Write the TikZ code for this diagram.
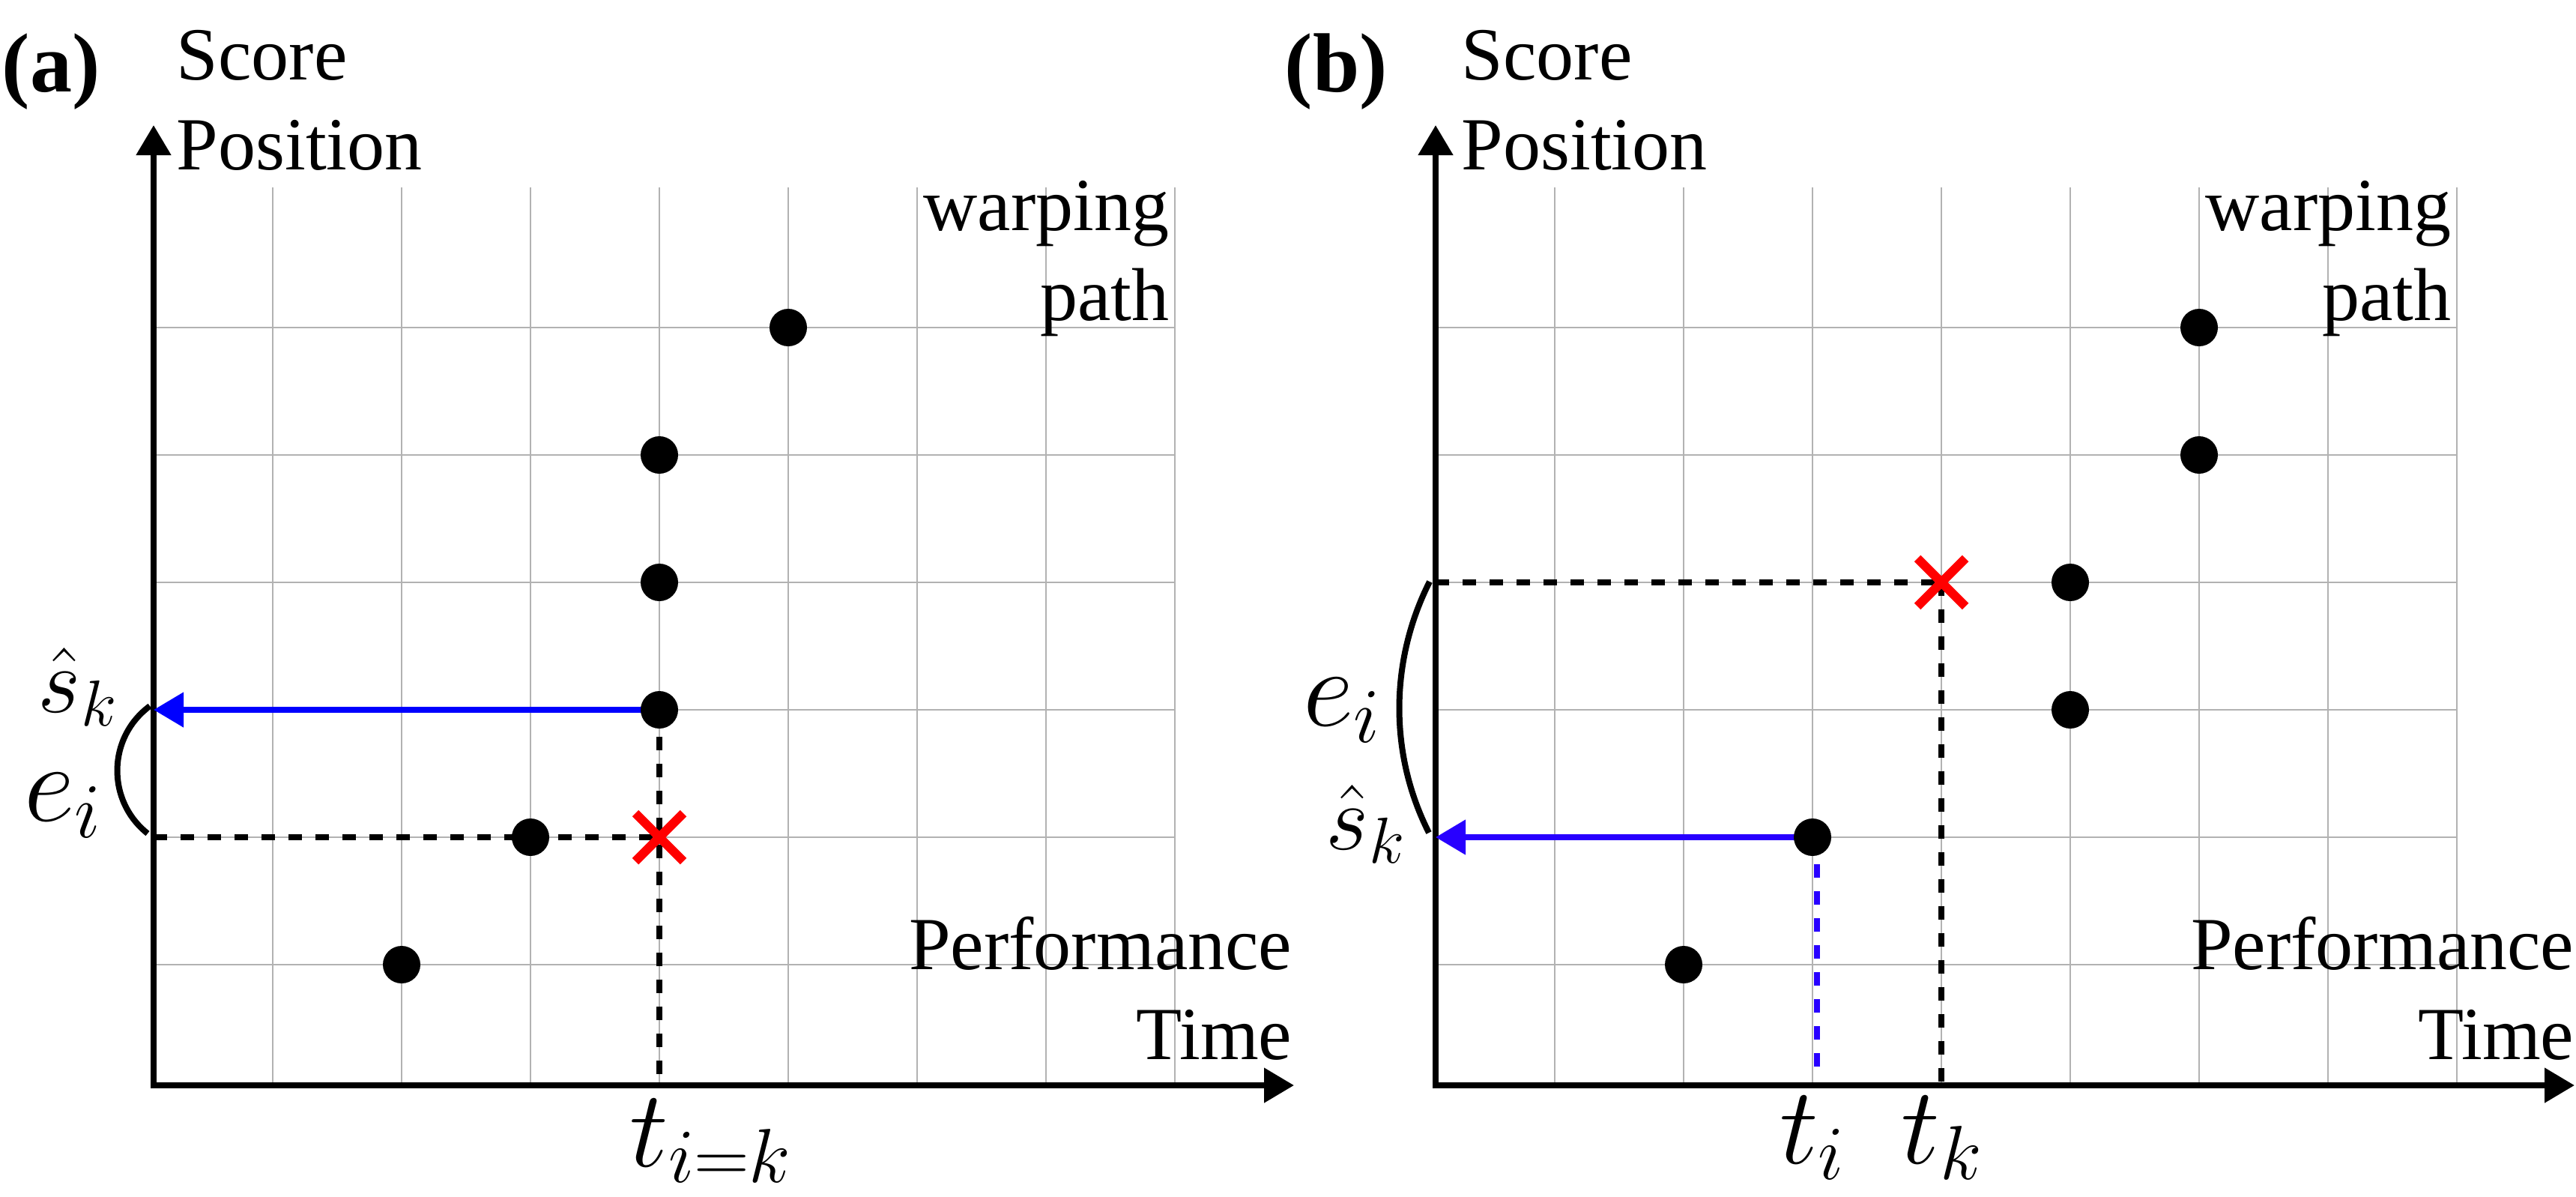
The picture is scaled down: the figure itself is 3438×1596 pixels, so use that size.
\documentclass[tikz,border=0pt]{standalone}
\usepackage{fontspec}
\setmainfont{Liberation Serif}
\DeclareFontShape{OML}{cmm}{m}{it}{<-6>cmmi5<6-7>cmmi6<7-8>cmmi7<8-9>cmmi8<9-10>cmmi9<10-12>cmmi10<12->cmmi12}{}
\DeclareFontShape{OT1}{cmr}{m}{n}{<-6>cmr5<6-7>cmr6<7-8>cmr7<8-9>cmr8<9-10>cmr9<10-12>cmr10<12-17>cmr12<17->cmr17}{}
\DeclareFontShape{OMS}{cmsy}{m}{n}{<-6>cmsy5<6-7>cmsy6<7-8>cmsy7<8-9>cmsy8<9-10>cmsy9<10->cmsy10}{}
\usetikzlibrary{arrows.meta,shapes.misc}
\definecolor{gridgray}{RGB}{178,178,178}
\definecolor{blueA}{RGB}{0,0,255}
\definecolor{blueB}{RGB}{40,0,255}
\definecolor{redX}{RGB}{255,0,0}
\begin{document}
\begin{tikzpicture}[x=0.25pt,y=-0.25pt,
  gridline/.style={draw=gridgray,line width=0.5pt},
  axisline/.style={line width=2pt,-{Triangle[length=10pt,width=11.25pt]}},
  dot/.style={circle,fill=black,inner sep=0pt,minimum size=12.5pt},
  xmark/.style={cross out,draw=redX,line width=3pt,inner sep=0pt,minimum size=13pt},
  guide/.style={line width=1.85pt,dash pattern=on 4.5pt off 4.5pt},
  estarrow/.style={line width=2pt,-{Triangle[length=10pt,width=11.25pt]}},
  bracearc/.style={line width=2pt},
  txt/.style={inner sep=0pt,font=\fontsize{25}{30}\selectfont},
  panellbl/.style={inner sep=0pt,font=\fontsize{28}{30}\selectfont\bfseries},
  mathE/.style={inner sep=0pt,font=\fontsize{37}{40}\selectfont},
  mathS/.style={inner sep=0pt,font=\fontsize{31}{34}\selectfont},
  mathT/.style={inner sep=0pt,font=\fontsize{36.5}{38}\selectfont}]
\useasboundingbox (0,0) rectangle (3438,1596);

% ---------------- panel (a) ----------------
\foreach \i in {0,...,7} \draw[gridline] (364+172*\i,250) -- (364+172*\i,1448);
\foreach \j in {0,...,5} \draw[gridline] (205,437+170*\j) -- (1568,437+170*\j);

\coordinate (oa) at (205,1448);
\coordinate (yta) at (205,167);
\coordinate (xta) at (1727,1448);
\draw[axisline] ([yshift=-1pt]oa) -- (yta);
\draw[axisline] ([xshift=-1pt]oa) -- (xta);

\coordinate (pa1) at (536,1287);
\coordinate (pa2) at (708,1117);
\coordinate (pa3) at (880,947);
\coordinate (pa4) at (880,777);
\coordinate (pa5) at (880,607);
\coordinate (pa6) at (1052,437);
\coordinate (ca) at (880,1117);

\draw[guide] (oa |- ca) -- (ca);
\draw[guide] (pa3) -- (pa3 |- oa);
\draw[estarrow,blueA] (pa3) -- (pa3 -| oa);

\coordinate (ba1) at (200,942);
\coordinate (ba2) at (197,1112);
\draw[bracearc] (ba1) .. controls (143.3,983.8) and (141.8,1068.2) .. (ba2);

\foreach \n in {pa1,pa2,pa3,pa4,pa5,pa6} \node[dot] (d\n) at (\n) {};
\node[xmark] (xa) at (ca) {};

\node[panellbl,anchor=base west] (labA) at (2,122) {(a)};
\node[txt,anchor=base west] (scoreA) at (235,106) {Score};
\node[txt,anchor=base west] (posA) at (235,226) {Position};
\node[txt,anchor=base east] (warpA) at (1561,307) {warping};
\node[txt,anchor=base east] (pathA) at (1561,427) {path};
\node[txt,anchor=base east] (perfA) at (1725,1293) {Performance};
\node[txt,anchor=base east] (timeA) at (1725,1413) {Time};
\node[mathS,anchor=base] (skA) at (104,950) {$\hat{s}_k$};
\node[mathE,anchor=base] (eiA) at (84,1095) {$e_i$};
\node[mathT,anchor=base] (tikA) at (949,1556) {$t_{i=k}$};

% ---------------- panel (b) ----------------
\foreach \i in {0,...,7} \draw[gridline] (2075+172*\i,250) -- (2075+172*\i,1448);
\foreach \j in {0,...,5} \draw[gridline] (1916,437+170*\j) -- (3279,437+170*\j);

\coordinate (ob) at (1916,1448);
\coordinate (ytb) at (1916,167);
\coordinate (xtb) at (3436,1448);
\draw[axisline] ([yshift=-1pt]ob) -- (ytb);
\draw[axisline] ([xshift=-1pt]ob) -- (xtb);

\coordinate (pb1) at (2247,1287);
\coordinate (pb2) at (2419,1117);
\coordinate (pb3) at (2763,947);
\coordinate (pb4) at (2763,777);
\coordinate (pb5) at (2935,607);
\coordinate (pb6) at (2935,437);
\coordinate (cb) at (2591,777);

\draw[guide] (ob |- cb) -- (cb);
\draw[guide] (cb) -- (cb |- ob);
\draw[estarrow,blueB] (pb2) -- (pb2 -| ob);
\draw[guide,blueB,line width=2pt] ([xshift=1.5pt]pb2) -- ([xshift=1.5pt,yshift=4pt]pb2 |- ob);

\coordinate (bb1) at (1908,776);
\coordinate (bb2) at (1907,1111);
\draw[bracearc] (bb1) .. controls (1854.7,881.3) and (1853.7,1005.7) .. (bb2);

\foreach \n in {pb1,pb2,pb3,pb4,pb5,pb6} \node[dot] (d\n) at (\n) {};
\node[xmark] (xb) at (cb) {};

\node[panellbl,anchor=base west] (labB) at (1714,122) {(b)};
\node[txt,anchor=base west] (scoreB) at (1950,106) {Score};
\node[txt,anchor=base west] (posB) at (1950,226) {Position};
\node[txt,anchor=base east] (warpB) at (3272,307) {warping};
\node[txt,anchor=base east] (pathB) at (3272,427) {path};
\node[txt,anchor=base east] (perfB) at (3436,1293) {Performance};
\node[txt,anchor=base east] (timeB) at (3436,1413) {Time};
\node[mathE,anchor=base] (eiB) at (1791,968) {$e_i$};
\node[mathS,anchor=base] (skB) at (1823,1133) {$\hat{s}_k$};
\node[mathT,anchor=base] (tiB) at (2419,1552) {$t_i$};
\node[mathT,anchor=base] (tkB) at (2592,1552) {$t_k$};
\end{tikzpicture}
\end{document}
